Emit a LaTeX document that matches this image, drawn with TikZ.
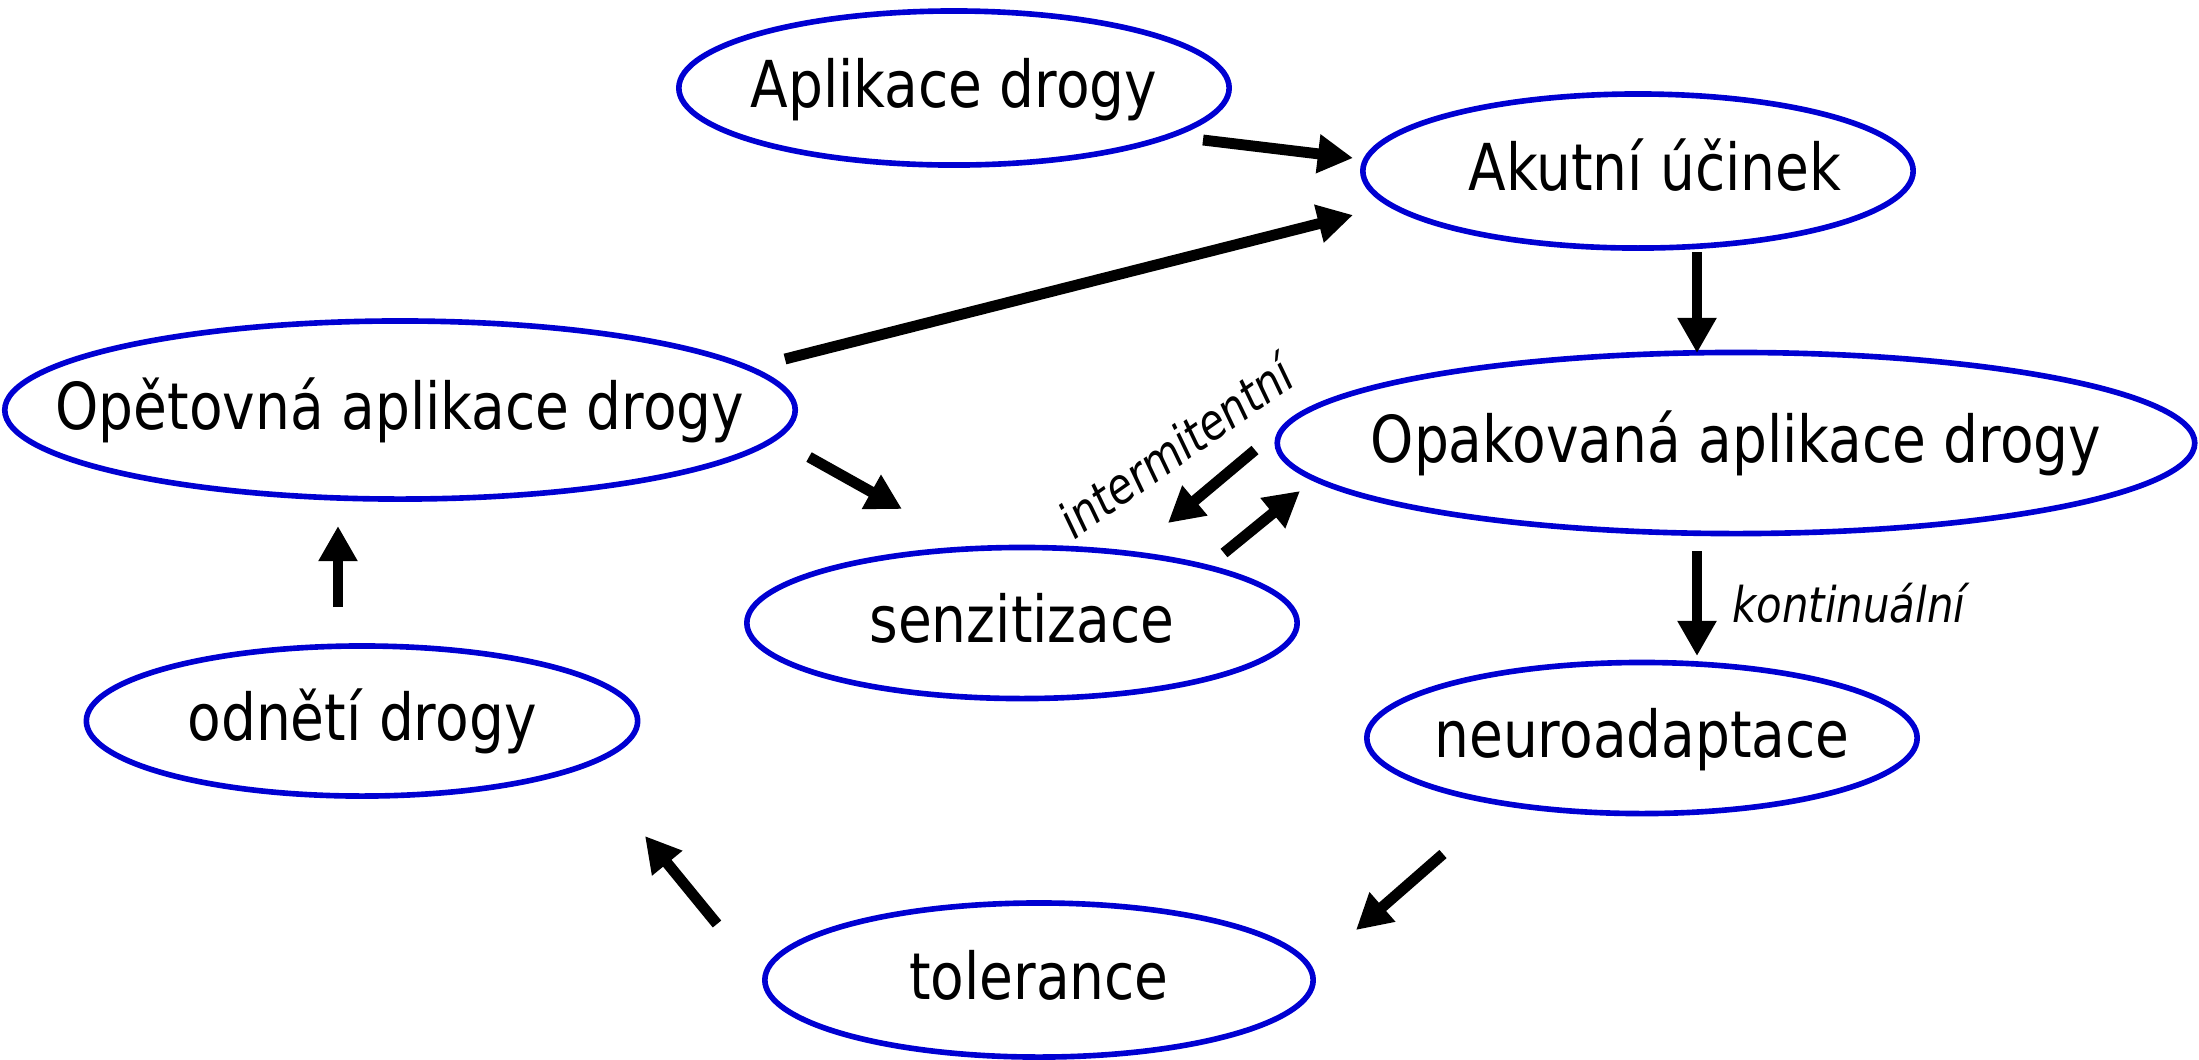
\documentclass[tikz,border=0pt]{standalone}
\usepackage{fontspec}
\setmainfont{DejaVu Sans}[FakeStretch=0.85]
\usetikzlibrary{shapes.geometric,arrows.meta}
\definecolor{ringblue}{RGB}{0,0,210}
% text that does not widen its ellipse
\newcommand\ctext[1]{\makebox[0pt]{\raisebox{-0.3em}[0pt][0pt]{#1}}}
\begin{document}
\begin{tikzpicture}[
    x=0.01cm, y=-0.01cm,
    bubble/.style={ellipse, draw=ringblue, line width=1.6pt, inner sep=0pt, font=\fontsize{18.4}{22}\selectfont},
    arr/.style={line width=3.1pt, -{Triangle[length=10pt, width=10.5pt]}},
    tag/.style={font=\fontsize{14}{17}\selectfont\itshape},
]
\useasboundingbox (0,0) rectangle (2199,1059);

% states
\node[bubble, minimum width=5.50cm, minimum height=1.54cm] (aplik) at (954,88) {\ctext{Aplikace drogy}};
\node[bubble, minimum width=5.50cm, minimum height=1.54cm] (akut) at (1638,171) {\ctext{\hspace{0.34cm}Akutní účinek}};
\node[bubble, minimum width=7.90cm, minimum height=1.78cm] (opet) at (400,410) {\ctext{Opětovná aplikace drogy}};
\node[bubble, minimum width=9.17cm, minimum height=1.81cm] (opak) at (1736,443) {\ctext{Opakovaná aplikace drogy}};
\node[bubble, minimum width=5.50cm, minimum height=1.51cm] (senz) at (1022,623) {\ctext{senzitizace}};
\node[bubble, minimum width=5.51cm, minimum height=1.50cm] (odn) at (362,721) {\ctext{odnětí drogy}};
\node[bubble, minimum width=5.50cm, minimum height=1.51cm] (neuro) at (1642,738) {\ctext{neuroadaptace}};
\node[bubble, minimum width=5.48cm, minimum height=1.54cm] (tol) at (1039,980) {\ctext{tolerance}};

% arrow ends
\coordinate (c1a) at (1203,140); \coordinate (c1b) at (1353,158);
\coordinate (c2a) at (785,359);  \coordinate (c2b) at (1353,215);
\coordinate (c3a) at (1697,252); \coordinate (c3b) at (1697,353);
\coordinate (c4a) at (809,457);  \coordinate (c4b) at (902,509);
\coordinate (c5a) at (1255,450); \coordinate (c5b) at (1168,523);
\coordinate (c6a) at (1224,553); \coordinate (c6b) at (1300,491);
\coordinate (c7a) at (1697,551); \coordinate (c7b) at (1697,656);
\coordinate (c8a) at (1443,854); \coordinate (c8b) at (1356,930);
\coordinate (c9a) at (717,924);  \coordinate (c9b) at (645,836);
\coordinate (c10a) at (338,607); \coordinate (c10b) at (338,526);

% arrows
\draw[arr] (c1a) -- (c1b);
\draw[arr] (c2a) -- (c2b);
\draw[arr] (c3a) -- (c3b);
\draw[arr] (c4a) -- (c4b);
\draw[arr] (c5a) -- (c5b);
\draw[arr] (c6a) -- (c6b);
\draw[arr] (c7a) -- (c7b);
\draw[arr] (c8a) -- (c8b);
\draw[arr] (c9a) -- (c9b);
\draw[arr] (c10a) -- (c10b);

% labels
\node[tag, rotate=35] (lint) at (1175,446) {intermitentní};
\node[tag, anchor=west] (lkont) at (1720,603) {kontinuální};
\end{tikzpicture}
\end{document}
